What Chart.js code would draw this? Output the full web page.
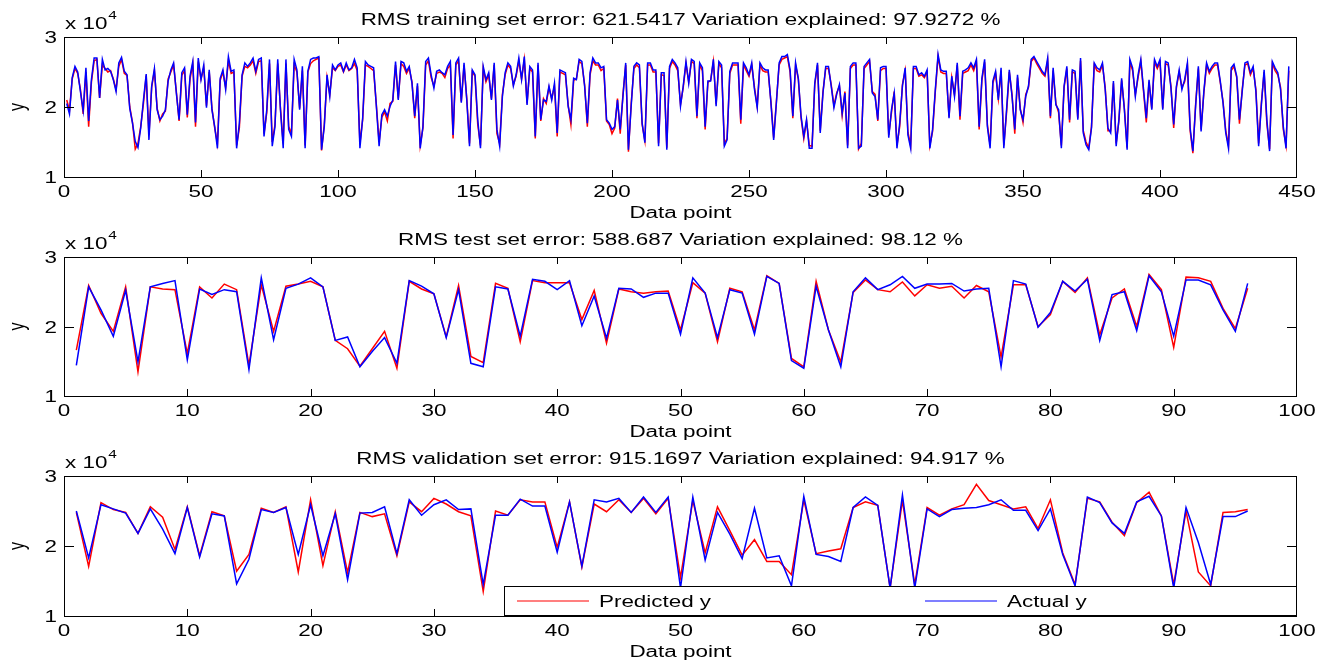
<!DOCTYPE html>
<html><head><meta charset="utf-8">
<script src="https://cdn.jsdelivr.net/npm/chart.js@4.4.1/dist/chart.umd.min.js"></script>
<style>
html,body{margin:0;padding:0;background:#fff;}
body{width:1332px;height:662px;position:relative;overflow:hidden;}
canvas{position:absolute;left:0;}
</style></head><body>
<canvas id="c1" width="1332" height="220" style="top:0px"></canvas>
<canvas id="c2" width="1332" height="220" style="top:220px"></canvas>
<canvas id="c3" width="1332" height="222" style="top:440px"></canvas>
<script>
// values in units of 10^4
const trainActual = [
2.05,1.90,2.42,2.58,2.50,2.22,1.95,2.56,1.80,2.39,2.70,2.70,2.13,2.68,2.53,2.55,2.51,2.39,2.22,2.63,
2.71,2.51,2.46,1.98,1.77,1.51,1.42,1.70,2.10,2.47,1.53,2.30,2.55,1.96,1.82,1.87,1.96,2.37,2.53,2.63,
2.20,1.82,2.49,2.56,1.89,2.44,2.65,1.78,2.70,2.39,2.60,1.99,2.53,1.96,1.72,1.41,2.41,2.53,2.25,2.72,
2.51,2.53,1.41,1.77,2.46,2.63,2.58,2.63,2.70,2.51,2.68,2.70,1.58,1.96,2.68,1.44,1.72,2.68,1.96,1.41,
2.68,1.68,1.58,2.68,2.53,1.96,2.58,1.41,2.51,2.68,2.70,2.70,2.72,1.39,1.72,2.46,2.15,2.60,2.53,2.60,
2.63,2.51,2.63,2.53,2.56,2.68,2.56,1.41,1.84,2.65,2.60,2.58,2.56,2.01,1.44,1.89,1.96,1.87,2.01,2.10,
2.65,2.10,2.65,2.63,2.51,2.58,2.34,1.87,2.34,1.41,1.72,2.65,2.70,2.46,2.27,2.51,2.53,2.49,2.46,2.58,
2.65,1.60,2.63,2.70,2.06,2.63,2.10,1.44,2.53,2.46,1.82,1.41,2.58,2.39,2.49,2.10,2.63,1.68,1.44,2.15,
2.49,2.63,2.58,2.30,2.46,2.70,2.39,2.72,2.03,2.58,2.53,1.58,2.63,1.82,2.10,2.08,2.30,2.10,2.34,1.63,
2.53,2.51,2.49,2.01,1.82,2.41,2.39,2.68,2.65,2.30,1.77,2.49,2.70,2.63,2.63,2.56,2.58,1.82,1.77,1.68,
1.72,2.10,1.68,2.15,2.63,1.39,2.01,2.58,2.63,2.60,1.77,1.49,2.63,2.63,2.53,2.53,1.44,2.49,2.49,1.39,
2.58,2.68,2.63,2.56,2.01,2.30,2.65,2.34,2.68,2.65,1.87,2.63,2.56,1.72,2.37,2.37,2.68,2.01,2.65,2.60,
1.44,1.53,2.51,2.63,2.63,2.63,1.82,2.63,2.56,2.46,2.63,2.25,1.99,2.63,2.56,2.53,2.53,2.06,1.53,2.06,
2.63,2.72,2.72,2.75,2.53,1.87,2.63,2.41,1.87,1.58,1.82,1.41,1.41,2.34,2.63,1.63,2.20,2.58,2.58,2.30,
1.99,2.18,2.32,1.91,2.20,1.41,2.58,2.63,2.63,1.41,1.44,2.58,2.63,2.68,2.20,2.15,1.82,2.56,2.58,2.58,
1.56,1.96,2.20,1.41,1.77,2.30,2.56,1.60,1.41,2.58,2.58,2.46,2.49,2.44,2.53,1.41,1.68,2.25,2.75,2.53,
2.51,2.51,1.84,2.44,2.15,2.63,1.87,2.51,2.53,2.56,2.63,2.56,2.68,1.72,2.41,2.68,1.72,1.41,2.37,2.51,
2.10,2.56,1.41,1.96,2.53,2.15,1.68,2.46,1.96,1.82,2.15,2.30,2.68,2.72,2.65,2.58,2.51,2.46,2.70,1.87,
2.56,2.03,1.96,1.41,2.30,2.58,1.82,2.53,2.51,1.82,2.70,1.63,1.46,1.39,1.70,2.63,2.56,2.53,2.63,2.25,
1.70,1.63,2.37,1.44,1.82,2.41,1.96,1.39,2.68,2.56,2.15,2.46,2.68,2.25,1.84,2.39,1.96,2.68,2.58,2.68,
1.96,2.65,2.63,2.27,1.75,2.30,2.53,2.25,2.39,2.63,1.70,1.37,2.01,2.58,1.65,2.22,2.63,2.51,2.58,2.63,
2.63,2.37,2.06,1.63,1.41,2.56,2.61,2.44,1.82,2.22,2.63,2.65,2.49,2.58,2.22,1.44,2.03,2.53,1.82,1.37,
2.65,2.56,2.49,2.25,1.72,1.41,2.58];
const trainPredicted = [
2.10,1.95,2.40,2.55,2.48,2.25,1.90,2.50,1.72,2.35,2.66,2.68,2.13,2.60,2.55,2.50,2.52,2.40,2.25,2.58,
2.68,2.48,2.45,2.00,1.78,1.40,1.48,1.72,2.05,2.45,1.60,2.28,2.52,1.98,1.80,1.90,1.94,2.40,2.50,2.60,
2.22,1.80,2.45,2.52,1.85,2.40,2.62,1.72,2.65,2.40,2.56,2.02,2.50,1.98,1.70,1.48,2.38,2.50,2.28,2.66,
2.48,2.50,1.45,1.70,2.44,2.58,2.56,2.60,2.66,2.48,2.65,2.66,1.62,1.92,2.62,1.50,1.75,2.62,1.98,1.48,
2.62,1.72,1.62,2.60,2.50,1.98,2.52,1.45,2.50,2.62,2.66,2.68,2.70,1.38,1.75,2.42,2.18,2.56,2.52,2.58,
2.60,2.50,2.60,2.52,2.55,2.62,2.52,1.48,1.82,2.60,2.58,2.55,2.52,2.03,1.50,1.85,1.93,1.80,2.05,2.08,
2.60,2.12,2.62,2.58,2.48,2.55,2.36,1.84,2.30,1.45,1.70,2.60,2.66,2.42,2.30,2.48,2.50,2.48,2.42,2.55,
2.60,1.55,2.60,2.66,2.08,2.60,2.12,1.48,2.50,2.44,1.75,1.45,2.55,2.36,2.46,2.12,2.60,1.62,1.48,2.18,
2.46,2.60,2.55,2.32,2.44,2.66,2.40,2.68,2.05,2.55,2.50,1.55,2.60,1.80,2.12,2.05,2.28,2.12,2.30,1.58,
2.50,2.48,2.46,2.03,1.75,2.38,2.40,2.65,2.62,2.32,1.72,2.46,2.66,2.60,2.60,2.52,2.55,1.80,1.75,1.62,
1.70,2.12,1.62,2.18,2.60,1.36,2.05,2.55,2.60,2.56,1.75,1.52,2.60,2.60,2.50,2.50,1.48,2.46,2.45,1.42,
2.55,2.65,2.60,2.52,2.04,2.28,2.62,2.36,2.65,2.62,1.84,2.60,2.52,1.68,2.35,2.38,2.65,2.04,2.62,2.56,
1.48,1.55,2.48,2.60,2.60,2.60,1.76,2.60,2.52,2.44,2.60,2.28,2.01,2.60,2.52,2.50,2.50,2.08,1.56,2.08,
2.60,2.68,2.70,2.72,2.50,1.84,2.60,2.40,1.84,1.55,1.80,1.45,1.44,2.32,2.60,1.66,2.22,2.55,2.55,2.32,
2.02,2.20,2.30,1.88,2.22,1.45,2.55,2.60,2.60,1.40,1.48,2.55,2.60,2.65,2.22,2.18,1.80,2.52,2.55,2.55,
1.60,1.92,2.22,1.45,1.72,2.32,2.52,1.64,1.45,2.55,2.55,2.44,2.46,2.42,2.50,1.45,1.65,2.22,2.72,2.50,
2.48,2.48,1.86,2.42,2.18,2.60,1.82,2.48,2.50,2.52,2.60,2.52,2.65,1.68,2.38,2.64,1.75,1.45,2.34,2.48,
2.12,2.52,1.45,1.92,2.50,2.18,1.62,2.42,1.98,1.78,2.18,2.28,2.65,2.70,2.62,2.55,2.48,2.44,2.66,1.84,
2.52,2.05,1.92,1.45,2.28,2.55,1.78,2.50,2.48,1.84,2.66,1.66,1.50,1.42,1.72,2.60,2.52,2.50,2.60,2.28,
1.66,1.66,2.34,1.48,1.80,2.38,1.98,1.42,2.64,2.52,2.18,2.42,2.65,2.22,1.78,2.36,1.98,2.64,2.55,2.64,
1.98,2.62,2.60,2.30,1.70,2.28,2.50,2.28,2.36,2.60,1.66,1.34,2.04,2.55,1.68,2.20,2.60,2.48,2.55,2.60,
2.60,2.35,2.08,1.66,1.45,2.52,2.58,2.42,1.76,2.25,2.60,2.62,2.46,2.55,2.25,1.48,2.06,2.50,1.76,1.40,
2.62,2.52,2.46,2.28,1.68,1.45,2.52];

const testActual = [
1.44,2.57,2.24,1.86,2.52,1.49,2.57,2.62,2.66,1.52,
2.54,2.46,2.53,2.50,1.38,2.70,1.81,2.55,2.61,2.70,
2.57,1.80,1.85,1.42,1.64,1.84,1.47,2.66,2.58,2.47,
1.84,2.53,1.47,1.42,2.57,2.54,1.86,2.68,2.65,2.53,
2.66,2.01,2.44,1.83,2.55,2.54,2.42,2.48,2.48,1.89,
2.70,2.48,1.84,2.53,2.48,1.89,2.72,2.62,1.51,1.40,
2.58,1.95,1.42,2.50,2.70,2.53,2.60,2.72,2.55,2.61,
2.61,2.62,2.51,2.54,2.55,1.42,2.66,2.61,1.99,2.20,
2.65,2.51,2.68,1.80,2.46,2.50,1.94,2.73,2.50,1.86,
2.67,2.67,2.60,2.24,1.93,2.62];
const testPredicted = [
1.66,2.59,2.19,1.93,2.57,1.35,2.57,2.54,2.53,1.61,
2.57,2.41,2.61,2.53,1.44,2.60,1.93,2.58,2.61,2.65,
2.57,1.80,1.68,1.43,1.68,1.93,1.40,2.65,2.54,2.47,
1.85,2.59,1.57,1.48,2.62,2.55,1.78,2.66,2.63,2.63,
2.63,2.10,2.52,1.76,2.54,2.50,2.48,2.50,2.51,1.95,
2.63,2.48,1.78,2.55,2.50,1.95,2.73,2.62,1.54,1.42,
2.65,1.95,1.49,2.49,2.67,2.53,2.50,2.64,2.44,2.60,
2.55,2.58,2.41,2.59,2.50,1.56,2.60,2.60,2.00,2.17,
2.65,2.49,2.70,1.88,2.41,2.54,2.00,2.75,2.53,1.70,
2.71,2.70,2.65,2.26,1.97,2.55];

const valActual = [
2.50,1.83,2.59,2.53,2.47,2.18,2.53,2.24,1.89,2.55,
1.84,2.46,2.43,1.46,1.81,2.52,2.48,2.55,1.88,2.59,
1.86,2.46,1.52,2.47,2.48,2.56,1.89,2.66,2.44,2.59,
2.66,2.52,2.53,1.45,2.44,2.44,2.67,2.57,2.57,1.91,
2.63,1.71,2.66,2.63,2.68,2.48,2.70,2.48,2.70,1.40,
2.70,1.80,2.48,2.17,1.82,2.54,1.83,1.86,1.43,2.71,
1.88,1.85,1.78,2.55,2.70,2.58,1.40,2.73,1.40,2.53,
2.42,2.52,2.54,2.55,2.59,2.66,2.51,2.51,2.22,2.53,
1.88,1.43,2.70,2.62,2.33,2.18,2.63,2.71,2.43,1.40,
2.55,2.05,1.45,2.42,2.42,2.50];
const valPredicted = [
2.48,1.71,2.62,2.52,2.48,2.18,2.56,2.41,1.95,2.56,
1.86,2.49,2.43,1.64,1.88,2.54,2.48,2.56,1.63,2.66,
1.72,2.49,1.62,2.48,2.42,2.46,1.86,2.63,2.49,2.68,
2.60,2.49,2.43,1.35,2.50,2.44,2.66,2.63,2.63,1.98,
2.63,1.70,2.60,2.49,2.66,2.48,2.68,2.46,2.68,1.55,
2.65,1.90,2.56,2.22,1.87,2.09,1.78,1.78,1.59,2.66,
1.89,1.93,1.96,2.55,2.63,2.58,1.40,2.65,1.45,2.55,
2.44,2.53,2.59,2.88,2.65,2.59,2.53,2.56,2.25,2.66,
1.90,1.45,2.68,2.63,2.34,2.15,2.62,2.77,2.43,1.45,
2.50,1.63,1.43,2.48,2.49,2.52];

const trainXTicks = [0,50,100,150,200,250,300,350,400,450];
const setXTicks = [0,10,20,30,40,50,60,70,80,90,100];
const yTickValues = [1,2,3];
const seriesNames = ['Predicted y','Actual y'];
const titleTrain = 'RMS training set error: 621.5417 Variation explained: 97.9272 %';
const titleTest = 'RMS test set error: 588.687 Variation explained: 98.12 %';
const titleVal = 'RMS validation set error: 915.1697 Variation explained: 94.917 %';
const xAxisName = 'Data point';
const yAxisName = 'y';

const FONT = '"Liberation Sans", Arial, sans-serif';
const SX = 1.4;

function sText(ctx, text, x, y, align, size, rotate) {
  ctx.save();
  ctx.font = size + 'px ' + FONT;
  ctx.fillStyle = '#000';
  ctx.textBaseline = 'alphabetic';
  ctx.textAlign = 'left';
  const w = ctx.measureText(text).width;
  ctx.translate(x, y);
  ctx.scale(SX, 1);
  if (rotate) {
    ctx.rotate(-Math.PI / 2);
    ctx.fillText(text, -w / 2, 0);
  } else {
    let dx = 0;
    if (align === 'center') dx = -w / 2;
    else if (align === 'right') dx = -w;
    ctx.fillText(text, dx, 0);
  }
  ctx.restore();
}
function textW(ctx, text, size) {
  ctx.save(); ctx.font = size + 'px ' + FONT;
  const w = ctx.measureText(text).width * SX; ctx.restore(); return w;
}

const matlabAxes = {
  id: 'matlabAxes',
  afterDatasetsDraw(chart, args, opts) {
    const ctx = chart.ctx, ca = chart.chartArea;
    const xs = chart.scales.x, ys = chart.scales.y;
    ctx.save();
    // legend box (drawn over lines)
    if (opts.legend) {
      const lx = ca.left + 440, ly = ca.bottom - 30, lw = ca.right - lx, lh = 30;
      ctx.fillStyle = '#fff';
      ctx.fillRect(lx, ly, lw, lh);
      ctx.strokeStyle = '#000'; ctx.lineWidth = 1;
      ctx.strokeRect(lx + 0.5, ly + 0.5, lw - 1, lh - 1);
      const ds = chart.data.datasets;
      const spots = [lx + 13, lx + 421];
      ds.forEach((d, i) => {
        const sx = spots[i], yy = ly + 15;
        ctx.strokeStyle = d.borderColor; ctx.lineWidth = 1.2;
        ctx.beginPath(); ctx.moveTo(sx, yy); ctx.lineTo(sx + 72, yy); ctx.stroke();
        sText(ctx, d.label, sx + 82, yy + 6, 'left', 16);
      });
    }
    // box
    ctx.strokeStyle = '#000'; ctx.lineWidth = 1;
    ctx.strokeRect(Math.round(ca.left) + 0.5, Math.round(ca.top) + 0.5,
                   Math.round(ca.right - ca.left) - 1, Math.round(ca.bottom - ca.top));
    // x ticks
    ctx.beginPath();
    opts.xTicks.forEach(v => {
      const px = Math.round(xs.getPixelForValue(v)) + 0.5;
      if (v !== opts.xTicks[0] && v !== opts.xTicks[opts.xTicks.length - 1]) {
        ctx.moveTo(px, ca.top); ctx.lineTo(px, ca.top + 7);
        if (!(opts.legend && px > ca.left + 440)) { ctx.moveTo(px, ca.bottom); ctx.lineTo(px, ca.bottom - 7); }
      }
    });
    opts.yTicks.forEach(v => {
      const py = Math.round(ys.getPixelForValue(v)) + 0.5;
      if (v !== opts.yTicks[0] && v !== opts.yTicks[opts.yTicks.length - 1]) {
        ctx.moveTo(ca.left, py); ctx.lineTo(ca.left + 10, py);
        ctx.moveTo(ca.right, py); ctx.lineTo(ca.right - 10, py);
      }
    });
    ctx.stroke();
    // tick labels
    opts.xTicks.forEach(v => {
      sText(ctx, String(v), xs.getPixelForValue(v), ca.bottom + 20, 'center', 16);
    });
    opts.yTicks.forEach(v => {
      sText(ctx, String(v), ca.left - 7, ys.getPixelForValue(v) + 6, 'right', 16);
    });
    // title
    sText(ctx, opts.title, (ca.left + ca.right) / 2, ca.top - 12, 'center', 16);
    // exponent
    sText(ctx, 'x 10', ca.left + 1, ca.top - 8, 'left', 16);
    sText(ctx, '4', ca.left + 1 + textW(ctx, 'x 10', 16) + 1, ca.top - 18, 'left', 11);
    // axis names
    sText(ctx, xAxisName, (ca.left + ca.right) / 2, ca.bottom + 41, 'center', 16);
    sText(ctx, yAxisName, ca.left - 40, (ca.top + ca.bottom) / 2, 'center', 16, true);
    ctx.restore();
  }
};

function toXY(arr) { return arr.map((v, i) => ({ x: i + 1, y: v })); }

function makeChart(id, pred, act, xTicks, xMax, title, pad, legend) {
  return new Chart(document.getElementById(id), {
    type: 'line',
    data: {
      datasets: [
        { label: seriesNames[0], data: toXY(pred), borderColor: '#ff0000', borderWidth: 1.5,
          pointRadius: 0, tension: 0, fill: false, order: 2 },
        { label: seriesNames[1], data: toXY(act), borderColor: '#0000ff', borderWidth: 1.5,
          pointRadius: 0, tension: 0, fill: false, order: 1 }
      ]
    },
    options: {
      responsive: false, animation: false, devicePixelRatio: 1,
      layout: { padding: pad },
      plugins: {
        legend: { display: false }, tooltip: { enabled: false }, title: { display: false },
        matlabAxes: { xTicks: xTicks, yTicks: yTickValues, title: title, legend: legend }
      },
      scales: {
        x: { type: 'linear', min: 0, max: xMax, display: false },
        y: { type: 'linear', min: 1, max: 3, display: false }
      }
    },
    plugins: [matlabAxes]
  });
}

makeChart('c1', trainPredicted, trainActual, trainXTicks, 450, titleTrain,
  { left: 64, right: 35, top: 37, bottom: 43 }, false);
makeChart('c2', testPredicted, testActual, setXTicks, 100, titleTest,
  { left: 64, right: 35, top: 37, bottom: 44 }, false);
makeChart('c3', valPredicted, valActual, setXTicks, 100, titleVal,
  { left: 64, right: 35, top: 36, bottom: 46 }, true);
</script>
</body></html>
